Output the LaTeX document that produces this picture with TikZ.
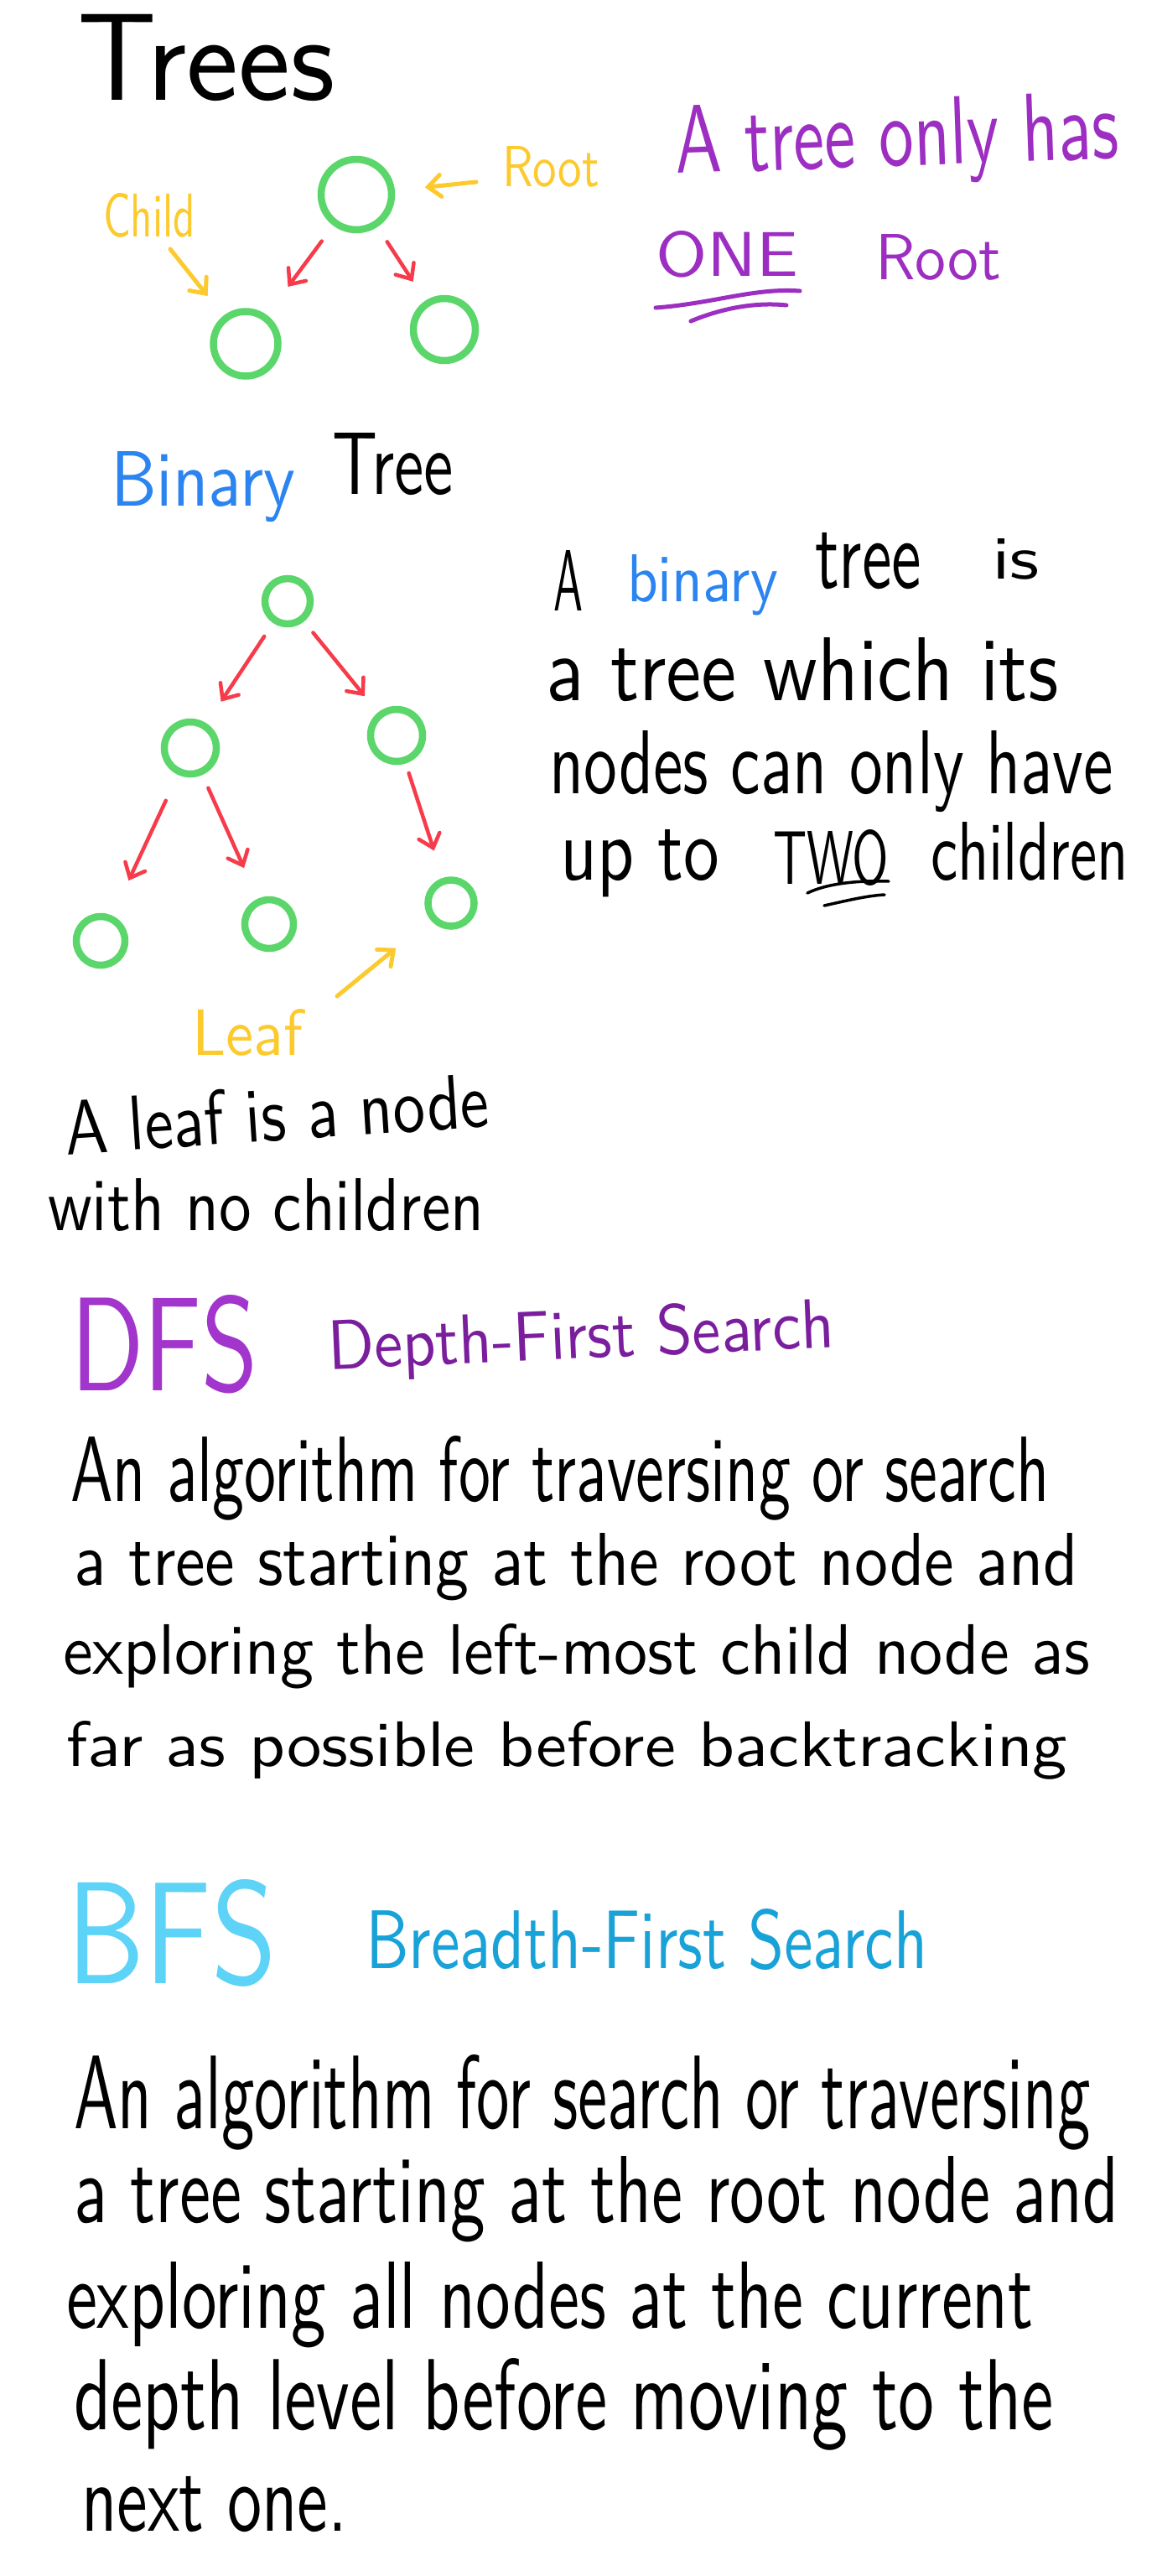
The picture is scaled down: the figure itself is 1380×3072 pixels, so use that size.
\documentclass[tikz,border=0pt]{standalone}
\usepackage{graphicx}
\usetikzlibrary{arrows.meta}
\definecolor{cgreen}{HTML}{5AD66B}
\definecolor{cred}{HTML}{F73B4A}
\definecolor{cyellow}{HTML}{FDCA2E}
\definecolor{cpurple}{HTML}{9C2EC2}
\definecolor{cdfs}{HTML}{A235CC}
\definecolor{cdepth}{HTML}{7A1E9E}
\definecolor{cblue}{HTML}{2B84F0}
\definecolor{cbfs}{HTML}{5DD3F7}
\definecolor{cbreadth}{HTML}{18A2D8}
\newcommand{\hwt}[7][]{\node[hw,anchor=base west,#1] (#2) at (#3,#4) {\resizebox{#5pt}{#6pt}{#7}};}
\begin{document}
\begin{tikzpicture}[x=1pt,y=-1pt,
  hw/.style={inner sep=0pt, outer sep=0pt, font=\sffamily, text=black},
  ring/.style={draw=cgreen, line width=8.5pt, circle, inner sep=0pt},
  redarrow/.style={draw=cred, line width=4.5pt, line cap=round, line join=round,
    -{Straight Barb[length=15pt,width=26pt,line cap=round]}},
  yelarrow/.style={draw=cyellow, line width=5pt, line cap=round, line join=round,
    -{Straight Barb[length=15pt,width=26pt,line cap=round]}},
  ulpurple/.style={draw=cpurple, line width=5pt, line cap=round},
  ulblack/.style={draw=black, line width=3.5pt, line cap=round}]
\fill[white] (0,0) rectangle (1380,3072);
\useasboundingbox (0,0) rectangle (1380,3072);

% ---------- Trees ----------
\node[hw, anchor=base west, font=\sffamily\fontsize{148}{148}\selectfont] (trees) at (92,120) {Trees};

\node[ring, minimum size=84pt] (troot) at (425,232) {};
\node[ring, minimum size=77pt] (tleft) at (293,410) {};
\node[ring, minimum size=74pt] (tright) at (530,393) {};
\draw[redarrow, shorten <=23pt, shorten >=42pt] (troot) -- (tleft);
\draw[redarrow, shorten <=21pt, shorten >=27pt] (troot) -- (tright);

\hwt[text=cyellow]{lblchild}{123}{282}{110}{52}{Child}
\hwt[text=cyellow]{lblroot}{599}{222}{116}{48}{Root}
\coordinate (childtail) at (203,297);
\coordinate (roottail) at (568,217);
\draw[yelarrow, shorten >=30pt] (childtail) -- (tleft);
\draw[yelarrow, shorten >=36pt] (roottail) -- (troot);

\hwt[text=cpurple, rotate=2]{onlyhas}{806}{207}{529}{80}{A tree only has}
\hwt[text=cpurple]{one}{782}{329}{170}{54}{ONE}
\hwt[text=cpurple]{oneroot}{1044}{333}{150}{54}{Root}
\draw[ulpurple] (782,367) .. controls (850,362) and (900,343) .. (954,347);
\draw[ulpurple] (824,383) .. controls (860,368) and (900,360) .. (938,364);

% ---------- Binary tree ----------
\hwt[text=cblue]{binary}{132}{603}{220}{65}{Binary}
\hwt{tree}{396}{589}{145}{73}{Tree}

\node[ring, minimum size=54pt] (broot) at (343,717) {};
\node[ring, minimum size=62pt] (bl) at (227,892) {};
\node[ring, minimum size=62pt] (br) at (473,877) {};
\node[ring, minimum size=58pt] (bll) at (120,1122) {};
\node[ring, minimum size=58pt] (blr) at (321,1102) {};
\node[ring, minimum size=55pt] (brr) at (538,1077) {};
\draw[redarrow, shorten <=19pt, shorten >=31pt] (broot) -- (bl);
\draw[redarrow, shorten <=17pt, shorten >=25pt] (broot) -- (br);
\draw[redarrow, shorten <=34pt, shorten >=46pt] (bl) -- (bll);
\draw[redarrow, shorten <=17pt, shorten >=40pt] (bl) -- (blr);
\draw[redarrow, shorten <=12pt, shorten >=34pt] (br) -- (brr);

\hwt{bA}{660}{728}{35}{72}{A}
\hwt[text=cblue]{bbinary}{748}{717}{180}{56}{binary}
\hwt{btree}{972}{701}{127}{66}{tree}
\hwt{bis}{1183}{690}{57}{48}{is}
\hwt{bt2}{651}{835}{611}{75}{a tree which its}
\hwt{bt3}{655}{946}{673}{75}{nodes can only have}
\hwt{bupto}{668}{1049}{190}{60}{up to}
\hwt{btwo}{922}{1054}{138}{65}{TWO}
\hwt{bchildren}{1110}{1049}{236}{69}{children}
\draw[ulblack] (963,1065) .. controls (990,1052) and (1030,1050) .. (1060,1051);
\draw[ulblack] (983,1080) .. controls (1010,1074) and (1035,1068) .. (1055,1067);

\hwt[text=cyellow]{lblleaf}{229}{1258}{132}{55}{Leaf}
\coordinate (leaftail) at (402,1188);
\draw[yelarrow, shorten >=53pt] (leaftail) -- (brr);

\hwt[rotate=3.8]{leaf1}{79}{1377}{507}{65}{A leaf is a node}
\hwt{leaf2}{57}{1467}{520}{62}{with no children}

% ---------- DFS ----------
\hwt[text=cdfs]{dfs}{84}{1658}{224}{114}{DFS}
\hwt[text=cdepth, rotate=2.5]{dfsname}{392}{1633}{604}{60}{Depth-First Search}
\hwt{d1}{84}{1790}{1167}{78}{An algorithm for traversing or search}
\hwt{d2}{88}{1890}{1198}{62}{a tree starting at the root node and}
\hwt{d3}{75}{1996}{1225}{60}{exploring the left-most child node as}
\hwt{d4}{79}{2106}{1194}{54}{far as possible before backtracking}

% ---------- BFS ----------
\hwt[text=cbfs]{bfs}{79}{2365}{251}{124}{BFS}
\hwt[text=cbreadth]{bfsname}{436}{2347}{670}{71}{Breadth-First Search}
\hwt{e1}{88}{2538}{1212}{88}{An algorithm for search or traversing}
\hwt{e2}{88}{2650}{1247}{79}{a tree starting at the root node and}
\hwt{e3}{79}{2776}{1154}{79}{exploring all nodes at the current}
\hwt{e4}{88}{2897}{1168}{85}{depth level before moving to the}
\hwt{e5}{97}{3018}{317}{65}{next one.}
\end{tikzpicture}
\end{document}
